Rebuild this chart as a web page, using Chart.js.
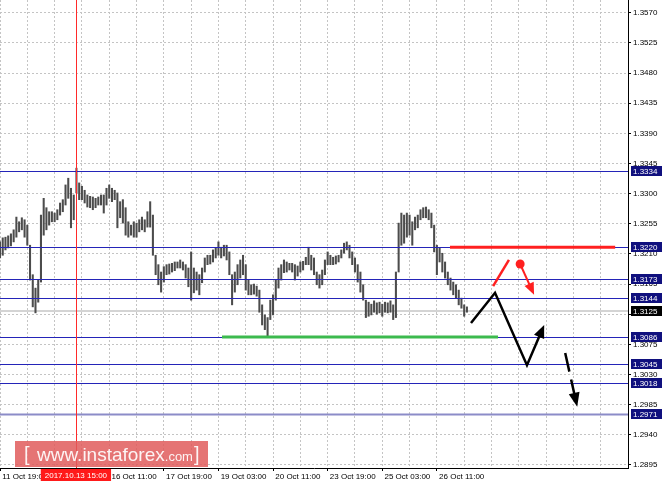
<!DOCTYPE html>
<html><head><meta charset="utf-8">
<script src="https://cdn.jsdelivr.net/npm/chart.js@4.4.0/dist/chart.umd.min.js"></script>
<style>html,body{margin:0;padding:0;background:#fff;}#wrap{width:664px;height:485px;position:relative;}</style>
</head><body><div id="wrap"><canvas id="c" width="664" height="485"></canvas></div>
<script>
// ---- data ----
const highs = [
1.3228,1.3234,1.3235,1.3237,1.3240,1.3246,1.3265,1.3258,1.3264,1.3261,
1.3253,1.3223,1.3179,1.3159,1.3171,1.3268,1.3293,1.3279,1.3273,1.3273,
1.3271,1.3276,1.3286,1.3291,1.3313,1.3323,1.3308,1.3298,1.3338,1.3316,
1.3311,1.3305,1.3298,1.3296,1.3295,1.3293,1.3295,1.3298,1.3298,1.3308,
1.3313,1.3308,1.3305,1.3301,1.3288,1.3291,1.3279,1.3258,1.3253,1.3258,
1.3256,1.3261,1.3265,1.3261,1.3273,1.3288,1.3268,1.3208,1.3194,1.3183,
1.3191,1.3194,1.3195,1.3196,1.3198,1.3198,1.3201,1.3198,1.3194,1.3189,
1.3213,1.3189,1.3183,1.3179,1.3189,1.3204,1.3208,1.3208,1.3216,1.3219,
1.3228,1.3220,1.3223,1.3223,1.3213,1.3179,1.3183,1.3194,1.3201,1.3208,
1.3194,1.3171,1.3164,1.3165,1.3162,1.3156,1.3134,1.3119,1.3115,1.3141,
1.3149,1.3171,1.3189,1.3194,1.3201,1.3198,1.3196,1.3196,1.3194,1.3192,
1.3198,1.3199,1.3205,1.3220,1.3208,1.3204,1.3183,1.3179,1.3186,1.3201,
1.3213,1.3208,1.3205,1.3207,1.3208,1.3216,1.3226,1.3228,1.3223,1.3213,
1.3204,1.3194,1.3183,1.3164,1.3141,1.3138,1.3135,1.3140,1.3137,1.3138,
1.3135,1.3138,1.3137,1.3140,1.3134,1.3183,1.3256,1.3271,1.3268,1.3271,
1.3268,1.3258,1.3265,1.3268,1.3276,1.3279,1.3280,1.3276,1.3271,1.3253,
1.3223,1.3219,1.3211,1.3198,1.3183,1.3174,1.3168,1.3164,1.3156,1.3144,
1.3134,1.3131];
const lows = [
1.3204,1.3208,1.3216,1.3219,1.3222,1.3228,1.3235,1.3243,1.3246,1.3235,
1.3223,1.3171,1.3131,1.3122,1.3138,1.3168,1.3238,1.3246,1.3253,1.3258,
1.3258,1.3261,1.3268,1.3273,1.3283,1.3293,1.3249,1.3261,1.3301,1.3291,
1.3291,1.3286,1.3280,1.3279,1.3276,1.3279,1.3283,1.3283,1.3271,1.3283,
1.3293,1.3288,1.3291,1.3249,1.3264,1.3256,1.3238,1.3235,1.3238,1.3235,
1.3235,1.3243,1.3246,1.3243,1.3250,1.3250,1.3208,1.3179,1.3164,1.3153,
1.3168,1.3179,1.3180,1.3183,1.3185,1.3189,1.3189,1.3186,1.3174,1.3161,
1.3141,1.3152,1.3156,1.3149,1.3167,1.3183,1.3194,1.3195,1.3198,1.3204,
1.3208,1.3204,1.3207,1.3201,1.3179,1.3134,1.3153,1.3164,1.3174,1.3179,
1.3156,1.3149,1.3149,1.3150,1.3147,1.3123,1.3104,1.3097,1.3086,1.3112,
1.3119,1.3141,1.3159,1.3171,1.3182,1.3183,1.3186,1.3183,1.3171,1.3177,
1.3183,1.3186,1.3194,1.3194,1.3186,1.3179,1.3164,1.3159,1.3164,1.3179,
1.3194,1.3194,1.3194,1.3195,1.3198,1.3204,1.3211,1.3216,1.3204,1.3194,
1.3183,1.3168,1.3153,1.3141,1.3115,1.3117,1.3119,1.3123,1.3120,1.3122,
1.3117,1.3123,1.3122,1.3123,1.3112,1.3115,1.3183,1.3223,1.3226,1.3235,
1.3238,1.3223,1.3246,1.3249,1.3261,1.3264,1.3264,1.3261,1.3249,1.3213,
1.3179,1.3198,1.3183,1.3174,1.3164,1.3156,1.3149,1.3144,1.3134,1.3129,
1.3117,1.3123];
const xLabels = ['11 Oct 19:00','','16 Oct 11:00','17 Oct 19:00','19 Oct 03:00','20 Oct 11:00','23 Oct 19:00','25 Oct 03:00','26 Oct 11:00'];
const yTicks = [1.2895,1.2940,1.2985,1.3030,1.3075,1.3120,1.3165,1.3210,1.3255,1.3300,1.3345,1.3390,1.3435,1.3480,1.3525,1.3570];
const levels = [1.3334,1.3220,1.3173,1.3144,1.3086,1.3045,1.3018,1.2971];
const currentPrice = 1.3125;
const markerIndex = 27.8;
const markerLabel = '2017.10.13 15:00';
const resistX = [164.8, 225.3], resistLevel = 1.3220;
const supportX = [81.3, 182.4], supportLevel = 1.3086;
const mainPathX = [172.5, 181.3, 193.0, 199.3];
const mainPathY = [1.3107, 1.3152, 1.3044, 1.3104];
const altSegX = [180.6, 186.4];
const altSegY = [1.3162, 1.3201];
const altArrowX = [190.5, 195.6];
const altArrowY = [1.3195, 1.3149];
const breakArrowX = [207.0, 211.4];
const breakArrowY = [1.3062, 1.2982];
const watermark = ['[', 'www.instaforex', '.com', ']'];

// ---- chart ----
const FONT = '"Liberation Sans", Arial, sans-serif';
const bars = highs.map((h, i) => ({x: i, y: [lows[i], h]}));

function arrowHead(ctx, x0, y0, x1, y1, len, half) {
  const a = Math.atan2(y1 - y0, x1 - x0);
  ctx.beginPath();
  ctx.moveTo(x1, y1);
  ctx.lineTo(x1 - len * Math.cos(a) + half * Math.sin(a), y1 - len * Math.sin(a) - half * Math.cos(a));
  ctx.lineTo(x1 - len * Math.cos(a) - half * Math.sin(a), y1 - len * Math.sin(a) + half * Math.cos(a));
  ctx.closePath();
  ctx.fill();
}

const overlay = {
  id: 'overlay',
  beforeDatasetsDraw(chart) {
    const {ctx, chartArea: a, scales: {y}} = chart;
    ctx.save();
    const py = Math.round(y.getPixelForValue(currentPrice));
    ctx.strokeStyle = '#d4d4d4'; ctx.lineWidth = 2;
    ctx.beginPath(); ctx.moveTo(a.left, py); ctx.lineTo(a.right, py); ctx.stroke();
    ctx.restore();
  },
  afterDatasetsDraw(chart) {
    const {ctx, chartArea: a, scales: {x, y}} = chart;
    ctx.save();
    levels.forEach((lv, i) => {
      const py = Math.round(y.getPixelForValue(lv)) + 0.5;
      const last = i === levels.length - 1;
      ctx.strokeStyle = last ? '#8c8cc8' : '#2424b8';
      ctx.lineWidth = last ? 2 : 1.2;
      ctx.beginPath(); ctx.moveTo(a.left, py); ctx.lineTo(a.right, py); ctx.stroke();
    });
    const mx = Math.round(x.getPixelForValue(markerIndex)) + 0.5;
    ctx.strokeStyle = '#ff2a2a'; ctx.lineWidth = 1;
    ctx.beginPath(); ctx.moveTo(mx, a.top); ctx.lineTo(mx, a.bottom); ctx.stroke();
    let py = y.getPixelForValue(supportLevel);
    ctx.strokeStyle = '#3cba4e'; ctx.lineWidth = 3;
    ctx.beginPath(); ctx.moveTo(x.getPixelForValue(supportX[0]), py); ctx.lineTo(x.getPixelForValue(supportX[1]), py); ctx.stroke();
    py = y.getPixelForValue(resistLevel);
    ctx.strokeStyle = '#ff2020'; ctx.lineWidth = 3;
    ctx.beginPath(); ctx.moveTo(x.getPixelForValue(resistX[0]), py); ctx.lineTo(x.getPixelForValue(resistX[1]), py); ctx.stroke();
    const P = mainPathX.map((v, i) => [x.getPixelForValue(v), y.getPixelForValue(mainPathY[i])]);
    ctx.strokeStyle = '#000'; ctx.fillStyle = '#000'; ctx.lineWidth = 2.5; ctx.lineJoin = 'miter';
    ctx.beginPath(); ctx.moveTo(P[0][0], P[0][1]);
    for (let i = 1; i < P.length; i++) {
      if (i === P.length - 1) {
        const a0 = Math.atan2(P[i][1] - P[i-1][1], P[i][0] - P[i-1][0]);
        ctx.lineTo(P[i][0] - 9 * Math.cos(a0), P[i][1] - 9 * Math.sin(a0));
      } else ctx.lineTo(P[i][0], P[i][1]);
    }
    ctx.stroke();
    arrowHead(ctx, P[P.length-2][0], P[P.length-2][1], P[P.length-1][0], P[P.length-1][1], 13, 5.5);
    ctx.strokeStyle = '#ff2020'; ctx.fillStyle = '#ff2020'; ctx.lineWidth = 2.5;
    ctx.beginPath();
    ctx.moveTo(x.getPixelForValue(altSegX[0]), y.getPixelForValue(altSegY[0]));
    ctx.lineTo(x.getPixelForValue(altSegX[1]), y.getPixelForValue(altSegY[1]));
    ctx.stroke();
    const d0 = [x.getPixelForValue(altArrowX[0]), y.getPixelForValue(altArrowY[0])];
    const d1 = [x.getPixelForValue(altArrowX[1]), y.getPixelForValue(altArrowY[1])];
    ctx.beginPath(); ctx.arc(d0[0], d0[1], 4.5, 0, Math.PI * 2); ctx.fill();
    const ra = Math.atan2(d1[1] - d0[1], d1[0] - d0[0]);
    ctx.lineWidth = 2;
    ctx.beginPath(); ctx.moveTo(d0[0], d0[1]); ctx.lineTo(d1[0] - 9 * Math.cos(ra), d1[1] - 9 * Math.sin(ra)); ctx.stroke();
    arrowHead(ctx, d0[0], d0[1], d1[0], d1[1], 12, 5);
    const b0 = [x.getPixelForValue(breakArrowX[0]), y.getPixelForValue(breakArrowY[0])];
    const b1 = [x.getPixelForValue(breakArrowX[1]), y.getPixelForValue(breakArrowY[1])];
    const ba = Math.atan2(b1[1] - b0[1], b1[0] - b0[0]);
    ctx.strokeStyle = '#000'; ctx.fillStyle = '#000'; ctx.lineWidth = 2.5;
    ctx.setLineDash([19, 8]);
    ctx.beginPath(); ctx.moveTo(b0[0], b0[1]); ctx.lineTo(b1[0] - 10 * Math.cos(ba), b1[1] - 10 * Math.sin(ba)); ctx.stroke();
    ctx.setLineDash([]);
    arrowHead(ctx, b0[0], b0[1], b1[0], b1[1], 14, 5.5);
    ctx.restore();
  },
  afterDraw(chart) {
    const {ctx, chartArea: a, scales: {x, y}} = chart;
    ctx.save();
    ctx.fillStyle = 'rgba(224,92,92,0.85)';
    ctx.fillRect(15, 441, 193, 26);
    ctx.fillStyle = 'rgba(255,255,255,0.92)';
    ctx.textBaseline = 'alphabetic'; ctx.textAlign = 'left';
    ctx.font = '20px ' + FONT;
    ctx.fillText(watermark[0], 24, 461);
    ctx.font = '19px ' + FONT;
    ctx.fillText(watermark[1], 37, 461);
    const w1 = ctx.measureText(watermark[1]).width;
    ctx.font = '13px ' + FONT;
    ctx.fillText(watermark[2], 37 + w1, 461);
    ctx.font = '20px ' + FONT;
    ctx.fillText(watermark[3], 194, 461);
    const mx = x.getPixelForValue(markerIndex);
    ctx.font = '8px ' + FONT;
    const tw = ctx.measureText(markerLabel).width;
    ctx.fillStyle = '#ff1a1a';
    ctx.fillRect(mx - tw / 2 - 4, a.bottom + 1, tw + 8, 12);
    ctx.fillStyle = '#fff'; ctx.textAlign = 'center'; ctx.textBaseline = 'middle';
    ctx.fillText(markerLabel, mx, a.bottom + 7.5);
    ctx.textAlign = 'left';
    const boxes = levels.map(v => [v, '#10107e']).concat([[currentPrice, '#000']]);
    boxes.forEach(([v, bg]) => {
      const py = Math.round(y.getPixelForValue(v));
      ctx.fillStyle = bg;
      ctx.fillRect(a.right + 3, py - 5, 31, 10);
      ctx.fillStyle = '#fff';
      ctx.fillText(v.toFixed(4), a.right + 5, py + 0.5);
    });
    ctx.restore();
  }
};

new Chart(document.getElementById('c'), {
  type: 'bar',
  data: {
    datasets: [{
      data: bars,
      backgroundColor: '#4c4c4c',
      borderWidth: 0,
      barThickness: 1.4,
      grouped: false
    }]
  },
  options: {
    responsive: false,
    animation: false,
    maintainAspectRatio: false,
    layout: {padding: 0},
    plugins: {legend: {display: false}, tooltip: {enabled: false}},
    scales: {
      x: {
        type: 'linear',
        min: 0, max: 230,
        offset: false,
        afterBuildTicks: s => { const t = []; for (let v = 0; v <= 230; v += 10) t.push({value: v}); s.ticks = t; },
        afterFit: s => { s.height = 17; s.paddingLeft = 0; s.paddingRight = 0; },
        grid: {
          color: '#c4c4c4', lineWidth: 1, offset: false, tickLength: 3,
          tickColor: c => (c.tick && c.tick.value % 20 === 0 && xLabels[c.tick.value / 20]) ? '#000' : 'rgba(0,0,0,0)',
          tickBorderDash: []
        },
        border: {display: true, color: '#000', width: 1, dash: [2, 2]},
        ticks: {
          autoSkip: false, maxRotation: 0, align: 'start', padding: 1, color: '#000',
          font: {family: FONT, size: 8},
          callback: v => (v % 20 === 0 && xLabels[v / 20]) ? ' ' + xLabels[v / 20] : ''
        }
      },
      y: {
        type: 'linear',
        position: 'right',
        min: 1.28905, max: 1.3589,
        afterBuildTicks: s => { s.ticks = yTicks.map(v => ({value: v})); },
        afterFit: s => { s.width = 36; s.paddingTop = 0; s.paddingBottom = 0; },
        grid: {color: '#c4c4c4', lineWidth: 1, tickLength: 3, tickColor: '#000', tickBorderDash: []},
        border: {display: true, color: '#000', width: 1, dash: [2, 2]},
        ticks: {
          padding: 2, color: '#000', font: {family: FONT, size: 8},
          callback: v => Number(v).toFixed(4)
        }
      }
    }
  },
  plugins: [overlay]
});
</script>
</body></html>
